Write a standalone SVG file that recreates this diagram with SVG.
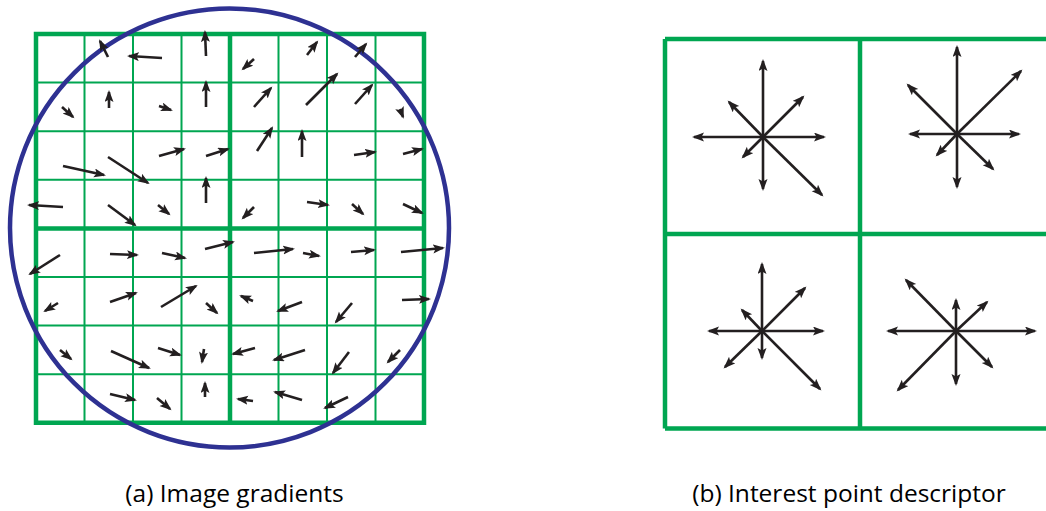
<svg xmlns="http://www.w3.org/2000/svg" width="1046" height="511" viewBox="0 0 1046 511">
<style>
.thin{stroke:#00a651;stroke-width:2;fill:none}
.thick{stroke:#00a651;stroke-width:4.5;fill:none}
.arr{stroke:#231f20;stroke-width:2.6;fill:none;marker-end:url(#ah)}
.cap{font-family:"Open Sans","Liberation Sans",sans-serif;font-size:24.5px;fill:#000}
</style>
<defs>
<marker id="ah" markerUnits="userSpaceOnUse" markerWidth="14" markerHeight="10" refX="10" refY="4.5" orient="auto" viewBox="0 0 14 10">
<path d="M0,0 L12,4.5 L0,9 L2.5,4.5 z" fill="#231f20"/>
</marker>
</defs>
<rect width="1046" height="511" fill="#fff"/>
<g id="grid-a">
<path class="thin" d="M84.5,34V422.8M133,34V422.8M181.5,34V422.8M278.5,34V422.8M327,34V422.8M375.5,34V422.8M36,82.6H424M36,131.2H424M36,179.8H424M36,277H424M36,325.6H424M36,374.2H424"/>
<path class="thick" d="M36,34H424V422.8H36Z M230,34V422.8 M36,228.4H424"/>
</g>
<circle id="circle" cx="229.5" cy="228" r="219.5" fill="none" stroke="#2e3192" stroke-width="4.5"/>
<g id="gradients">
<path class="arr" d="M108,57L100,41"/>
<path class="arr" d="M162,58L129,56"/>
<path class="arr" d="M206,56L205,32"/>
<path class="arr" d="M62,107L73,117"/>
<path class="arr" d="M109,108L109,92"/>
<path class="arr" d="M159,106L171,110"/>
<path class="arr" d="M206,107L206,82"/>
<path class="arr" d="M63,166L104,175"/>
<path class="arr" d="M108,157L148,183"/>
<path class="arr" d="M159,156L184,149"/>
<path class="arr" d="M206,156L228,149"/>
<path class="arr" d="M63,207L29,205"/>
<path class="arr" d="M108,205L135,225"/>
<path class="arr" d="M158,205L169,214"/>
<path class="arr" d="M206,203L206,178"/>
<path class="arr" d="M254,59L243,69"/>
<path class="arr" d="M307,55L317,42"/>
<path class="arr" d="M355,57L366,44"/>
<path class="arr" d="M254,107L271,88"/>
<path class="arr" d="M306,105L337,74"/>
<path class="arr" d="M355,104L372,85"/>
<path class="arr" d="M400,109L403,117"/>
<path class="arr" d="M257,151L272,128"/>
<path class="arr" d="M302,157L302,131"/>
<path class="arr" d="M354,155L375,152"/>
<path class="arr" d="M403,154L422,149"/>
<path class="arr" d="M254,207L243,218"/>
<path class="arr" d="M307,202L328,205"/>
<path class="arr" d="M352,204L363,214"/>
<path class="arr" d="M403,204L422,213"/>
<path class="arr" d="M60,255L30,274"/>
<path class="arr" d="M110,254L137,255"/>
<path class="arr" d="M162,253L185,258"/>
<path class="arr" d="M205,249L233,242"/>
<path class="arr" d="M58,303L45,311"/>
<path class="arr" d="M110,302L136,293"/>
<path class="arr" d="M161,307L196,286"/>
<path class="arr" d="M206,303L217,313"/>
<path class="arr" d="M60,350L71,359"/>
<path class="arr" d="M111,351L149,368"/>
<path class="arr" d="M158,348L180,355"/>
<path class="arr" d="M204,349L202,362"/>
<path class="arr" d="M110,394L135,400"/>
<path class="arr" d="M157,398L170,409"/>
<path class="arr" d="M205,397L205,383"/>
<path class="arr" d="M254,253L293,249"/>
<path class="arr" d="M303,253L319,256"/>
<path class="arr" d="M351,252L374,250"/>
<path class="arr" d="M401,252L443,248"/>
<path class="arr" d="M253,301L241,296"/>
<path class="arr" d="M302,302L278,311"/>
<path class="arr" d="M352,303L336,322"/>
<path class="arr" d="M402,300L429,299"/>
<path class="arr" d="M255,348L233,354"/>
<path class="arr" d="M305,350L274,360"/>
<path class="arr" d="M349,352L333,373"/>
<path class="arr" d="M400,350L388,362"/>
<path class="arr" d="M253,401L238,399"/>
<path class="arr" d="M302,400L275,392"/>
<path class="arr" d="M348,397L325,408"/>
</g>
<g id="grid-b">
<path class="thick" d="M665,39H1060M665,234H1060M665,428.5H1060M665,39V428.5M860,39V428.5"/>
</g>
<g id="desc-tl">
<path class="arr" d="M763,137L763,61"/>
<path class="arr" d="M763,137L763,189"/>
<path class="arr" d="M763,137L694,137"/>
<path class="arr" d="M763,137L824,137"/>
<path class="arr" d="M763,137L803,97"/>
<path class="arr" d="M763,137L729,102"/>
<path class="arr" d="M763,137L743,157"/>
<path class="arr" d="M763,137L822,195"/>
</g>
<g id="desc-tr">
<path class="arr" d="M957,134L957,47"/>
<path class="arr" d="M957,134L957,187"/>
<path class="arr" d="M957,134L910,134"/>
<path class="arr" d="M957,134L1019,134"/>
<path class="arr" d="M957,134L1021,71"/>
<path class="arr" d="M957,134L908,85"/>
<path class="arr" d="M957,134L937,155"/>
<path class="arr" d="M957,134L993,169"/>
</g>
<g id="desc-bl">
<path class="arr" d="M762,331L762,264"/>
<path class="arr" d="M762,331L762,358"/>
<path class="arr" d="M762,331L709,331"/>
<path class="arr" d="M762,331L823,331"/>
<path class="arr" d="M762,331L805,288"/>
<path class="arr" d="M762,331L742,310"/>
<path class="arr" d="M762,331L725,367"/>
<path class="arr" d="M762,331L820,389"/>
</g>
<g id="desc-br">
<path class="arr" d="M956,331L956,300"/>
<path class="arr" d="M956,331L956,384"/>
<path class="arr" d="M956,331L888,331"/>
<path class="arr" d="M956,331L1035,331"/>
<path class="arr" d="M956,331L987,302"/>
<path class="arr" d="M956,331L906,280"/>
<path class="arr" d="M956,331L898,390"/>
<path class="arr" d="M956,331L992,367"/>
</g>
<g id="captions">
<text class="cap" x="234.5" y="502" text-anchor="middle">(a) Image gradients</text>
<text class="cap" x="849" y="502" text-anchor="middle">(b) Interest point descriptor</text>
</g>
</svg>
